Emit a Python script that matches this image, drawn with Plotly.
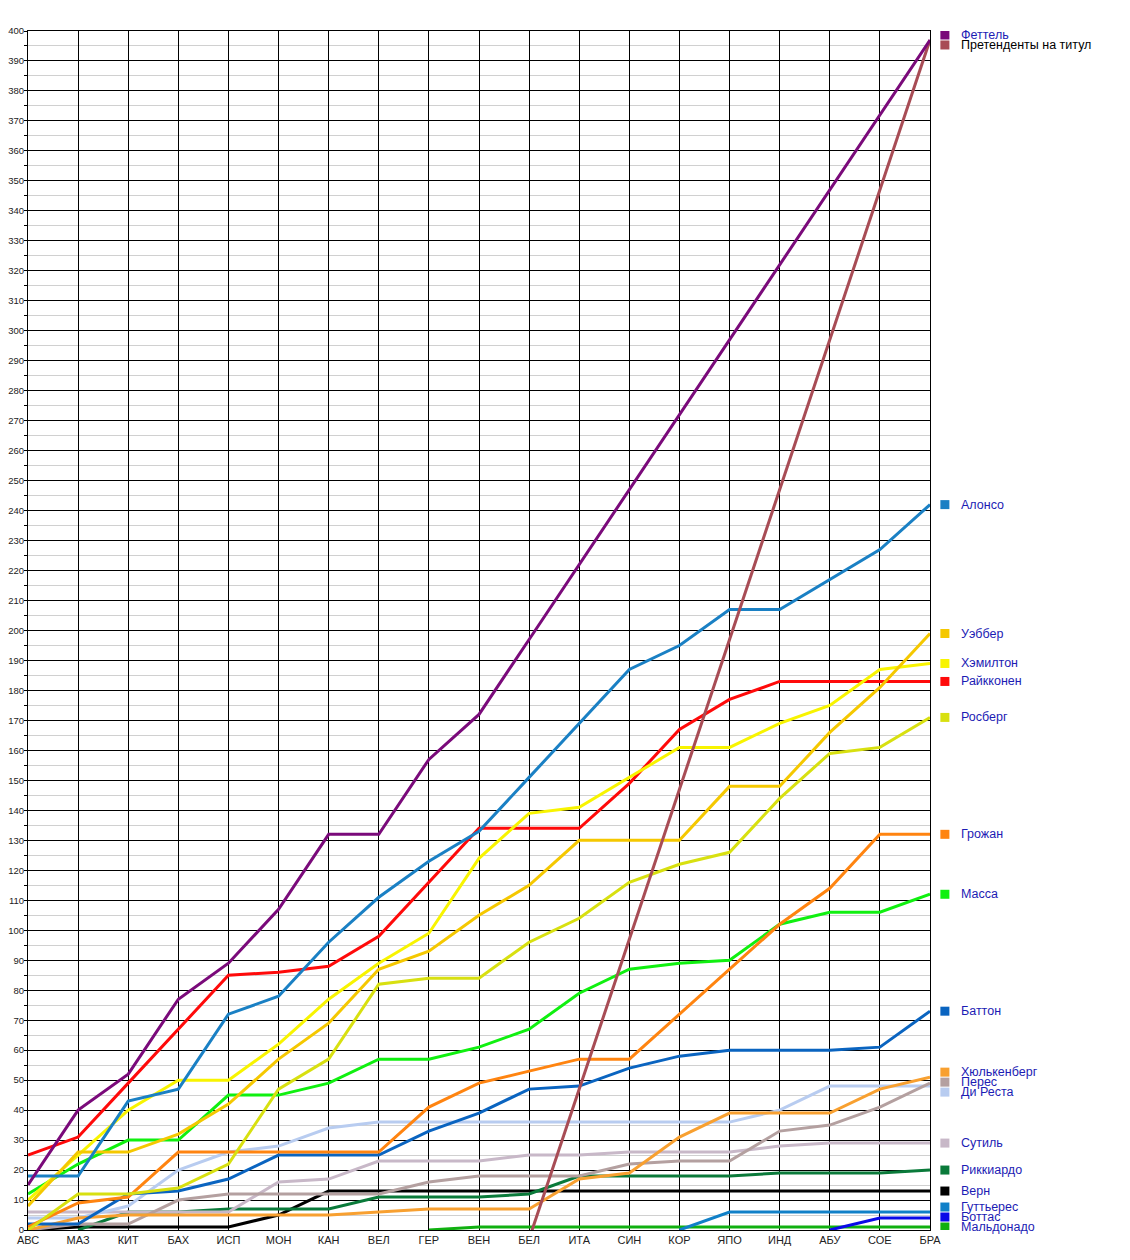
import plotly.graph_objects as go

races = ["АВС", "МАЗ", "КИТ", "БАХ", "ИСП", "МОН", "КАН", "ВЕЛ", "ГЕР", "ВЕН",
         "БЕЛ", "ИТА", "СИН", "КОР", "ЯПО", "ИНД", "АБУ", "СОЕ", "БРА"]

vettel     = [15, 40, 52, 77, 89, 107, 132, 132, 157, 172, 197, 222, 247, 272, 297, 322, 347, 372, 397]
contenders = [None]*10 + [-3, 47, 97, 147, 197, 247, 297, 347, 397]
alonso     = [18, 18, 43, 47, 72, 78, 96, 111, 123, 133, 151, 169, 187, 195, 207, 207, 217, 227, 242]
webber     = [8, 26, 26, 32, 42, 57, 69, 87, 93, 105, 115, 130, 130, 130, 148, 148, 166, 181, 199]
hamilton   = [10, 25, 40, 50, 50, 62, 77, 89, 99, 124, 139, 141, 151, 161, 161, 169, 175, 187, 189]
raikkonen  = [25, 31, 49, 67, 85, 86, 88, 98, 116, 134, 134, 134, 149, 167, 177, 183, 183, 183, 183]
rosberg    = [0, 12, 12, 14, 22, 47, 57, 82, 84, 84, 96, 104, 116, 122, 126, 144, 159, 161, 171]
grosjean   = [1, 9, 11, 26, 26, 26, 26, 26, 41, 49, 53, 57, 57, 72, 87, 102, 114, 132, 132]
massa      = [12, 22, 30, 30, 45, 45, 49, 57, 57, 61, 67, 79, 87, 89, 90, 102, 106, 106, 112]
button     = [2, 2, 12, 13, 17, 25, 25, 25, 33, 39, 47, 48, 54, 58, 60, 60, 60, 61, 73]
hulkenberg = [0, 4, 5, 5, 5, 5, 5, 6, 7, 7, 7, 17, 19, 31, 39, 39, 39, 47, 51]
perez      = [0, 2, 2, 10, 12, 12, 12, 12, 16, 18, 18, 18, 22, 23, 23, 33, 35, 41, 49]
di_resta   = [4, 4, 8, 20, 26, 28, 34, 36, 36, 36, 36, 36, 36, 36, 36, 40, 48, 48, 48]
sutil      = [6, 6, 6, 6, 6, 16, 17, 23, 23, 23, 25, 25, 26, 26, 26, 28, 29, 29, 29]
ricciardo  = [None, 0, 6, 6, 7, 7, 7, 11, 11, 11, 12, 18, 18, 18, 18, 19, 19, 19, 20]
vergne     = [0, 1, 1, 1, 1, 5, 13, 13, 13, 13, 13, 13, 13, 13, 13, 13, 13, 13, 13]
gutierrez  = [None]*13 + [0, 6, 6, 6, 6, 6]
bottas     = [None]*16 + [0, 4, 4]
maldonado  = [None]*8 + [0, 1, 1, 1, 1, 1, 1, 1, 1, 1, 1]

series = [
    ("Феттель", vettel, "#7a0a7a"),
    ("Претенденты на титул", contenders, "#a84c55"),
    ("Алонсо", alonso, "#1a80c4"),
    ("Уэббер", webber, "#f5c800"),
    ("Хэмилтон", hamilton, "#f8f400"),
    ("Райкконен", raikkonen, "#ff0a0a"),
    ("Росберг", rosberg, "#d8e010"),
    ("Грожан", grosjean, "#ff8410"),
    ("Масса", massa, "#10f010"),
    ("Баттон", button, "#0a64c0"),
    ("Хюлькенберг", hulkenberg, "#f8a030"),
    ("Перес", perez, "#b4a0a0"),
    ("Ди Реста", di_resta, "#b8ccf0"),
    ("Сутиль", sutil, "#c8b8c8"),
    ("Риккиардо", ricciardo, "#0a7a3a"),
    ("Верн", vergne, "#000000"),
    ("Гуттьерес", gutierrez, "#1080c8"),
    ("Боттас", bottas, "#0a0ae8"),
    ("Мальдонадо", maldonado, "#10b010"),
]

fig = go.Figure()
for name, vals, col in reversed(series):
    fig.add_trace(go.Scatter(x=races, y=vals, mode="lines", name=name,
                             line=dict(color=col, width=3), connectgaps=False,
                             showlegend=False))

# label placement: cluster labels to avoid overlap (min gap in data units)
gap = 10 / 3.0
items = [(s[1][-1], i) for i, s in enumerate(series)]
items.sort(key=lambda t: -t[0])
clusters = [[it] for it in items]
def positions(cl):
    c = sum(v for v, _ in cl) / len(cl)
    n = len(cl)
    return [c + gap * ((n - 1) / 2 - k) for k in range(n)]
changed = True
while changed:
    changed = False
    for k in range(len(clusters) - 1):
        a, b = positions(clusters[k]), positions(clusters[k + 1])
        if a[-1] - b[0] < gap - 1e-9:
            clusters[k] = clusters[k] + clusters[k + 1]
            del clusters[k + 1]
            changed = True
            break
label_y = {}
for cl in clusters:
    ps = positions(cl)
    shift = max(0, 1 - ps[-1])
    for (v, i), p in zip(cl, ps):
        label_y[i] = p + shift

for i, (name, vals, col) in enumerate(series):
    y = label_y[i]
    fig.add_shape(type="rect", xref="paper", yref="y",
                  x0=1.0115, x1=1.0215, y0=y - 1.5, y1=y + 1.5,
                  fillcolor=col, line=dict(width=0))
    fig.add_annotation(xref="paper", yref="y", x=1.0325, y=y, text=name,
                       xanchor="left", yanchor="middle", showarrow=False,
                       font=dict(family="Liberation Sans, Arial, sans-serif", size=12.5,
                                 color="#000000" if i == 1 else "#1c1cb4"))

fig.update_layout(
    width=1130, height=1260,
    margin=dict(l=20, r=208, t=23, b=38, autoexpand=False),
    paper_bgcolor="white", plot_bgcolor="white",
    font=dict(family="Liberation Sans, Arial, sans-serif", color="#222"),
)
fig.update_xaxes(type="category", range=[0, len(races) - 1], automargin=False,
                 showgrid=True, gridcolor="#000000", gridwidth=1,
                 showline=True, linecolor="#000000", linewidth=1, mirror=True,
                 ticks="", tickfont=dict(size=11, color="#222"), zeroline=False)
fig.update_yaxes(range=[0, 400], dtick=10, automargin=False,
                 showgrid=True, gridcolor="#000000", gridwidth=1,
                 showline=True, linecolor="#000000", linewidth=1, mirror=True,
                 ticks="outside", ticklen=3, tickcolor="#000", ticklabelstandoff=-2,
                 tickfont=dict(size=9.5, color="#222"), zeroline=False,
                 minor=dict(dtick=5, showgrid=True, gridcolor="#d0d0d0", gridwidth=1,
                            ticks="outside", ticklen=3, tickcolor="#000"))

fig.write_html("out.html")
